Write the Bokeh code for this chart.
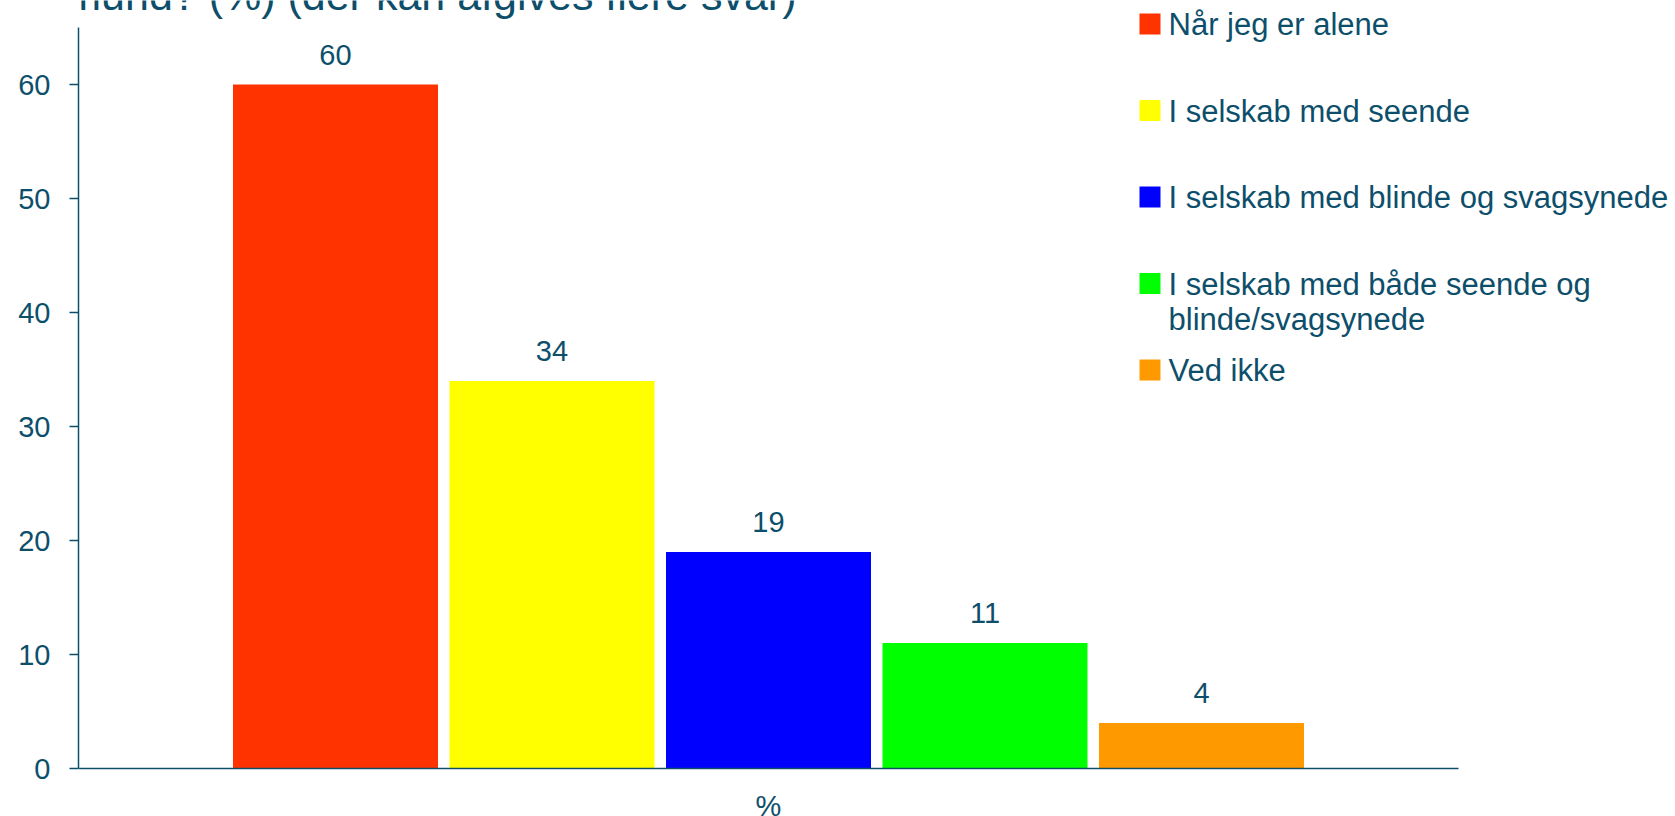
from bokeh.plotting import figure
from bokeh.models import Range1d, FixedTicker, ColumnDataSource
from bokeh.core.properties import value
from bokeh.embed import file_html
from bokeh.resources import INLINE

# ---- data ----
categories = ["Når jeg er alene", "I selskab med seende", "I selskab med blinde og svagsynede",
              "I selskab med både seende og blinde/svagsynede", "Ved ikke"]
legend_labels = ["Når jeg er alene", "I selskab med seende", "I selskab med blinde og svagsynede",
                 "I selskab med både seende og\nblinde/svagsynede", "Ved ikke"]
values = [60, 34, 19, 11, 4]
colors = ["#FF3300", "#FFFF00", "#0000FF", "#00FF00", "#FF9900"]
y_ticks = [0, 10, 20, 30, 40, 50, 60]
x_tick_label = "%"
title_text = "øremund? (%) (der kan afgives flere svar)"

# ---- layout constants (pixels) ----
W, H = 1675, 816
LEFT = 78
FRAME_W = W - LEFT
ZERO_Y = 768          # canvas y of value 0
PX_PER_UNIT = 11.4
Y_MAX = ZERO_Y / PX_PER_UNIT
Y_MIN = -(H - ZERO_Y) / PX_PER_UNIT
AXIS_LEN = 1380
CX = AXIS_LEN / 2
PITCH = 216.5
BAR_W = 205
TXT = "#0D4F6B"
FONT = "Liberation Sans"

def ydata(canvas_y):
    return (ZERO_Y - canvas_y) / PX_PER_UNIT

def xdata(canvas_x):
    return canvas_x - LEFT

p = figure(width=W, height=H, output_backend="svg", toolbar_location=None,
           x_range=Range1d(0, FRAME_W), y_range=Range1d(Y_MIN, Y_MAX),
           min_border_left=LEFT, min_border_right=0, min_border_top=0, min_border_bottom=0,
           tools="")
p.outline_line_color = None
p.grid.visible = False
p.xaxis.visible = False
p.background_fill_color = "white"
p.border_fill_color = "white"

n = len(values)
xs = [CX + (i - (n - 1) / 2) * PITCH for i in range(n)]
src = ColumnDataSource(dict(x=xs, top=values, color=colors, cat=categories,
                            lbl=[str(v) for v in values]))
p.vbar(x="x", top="top", bottom=0, width=BAR_W, fill_color="color", line_color=None, source=src)
p.text(x="x", y="top", text="lbl", source=src, text_align="center", text_baseline="middle",
       y_offset=-30, text_font=value(FONT), text_font_size="29px", text_color=TXT)

# y axis
yax = p.yaxis[0]
yax.ticker = FixedTicker(ticks=y_ticks)
yax.bounds = (0, 65)
yax.axis_line_color = TXT
yax.axis_line_width = 1.5
yax.major_tick_line_color = TXT
yax.major_tick_line_width = 1.5
yax.major_tick_out = 9
yax.major_tick_in = 0
yax.minor_tick_line_color = None
yax.major_label_standoff = 19
yax.major_label_text_font = FONT
yax.major_label_text_font_size = "29px"
yax.major_label_text_color = TXT

# category axis (baseline + "%" label)
p.segment(x0=[0], y0=[0], x1=[AXIS_LEN], y1=[0], line_color=TXT, line_width=1.5)
p.text(x=[CX], y=[0], text=[x_tick_label], text_align="center", text_baseline="middle",
       y_offset=37, text_font=value(FONT), text_font_size="29px", text_color=TXT)

# title (clipped at the top like the reference)
p.text(x=[xdata(796)], y=[ydata(-6)], text=[title_text], text_align="right",
       text_baseline="alphabetic", text_font=value(FONT), text_font_size="43px",
       text_color=TXT)

# legend
row0, row_pitch = 23.5, 86.5
sq = 21
sq_left, txt_left = 1139, 1168
lg = ColumnDataSource(dict(
    x=[xdata(sq_left + sq / 2)] * n,
    y=[ydata(row0 + i * row_pitch) for i in range(n)],
    ty=[ydata(row0 + i * row_pitch - 17) for i in range(n)],
    tx=[xdata(txt_left)] * n,
    color=colors, label=legend_labels))
p.rect(x="x", y="y", width=sq, height=sq / PX_PER_UNIT, fill_color="color", line_color=None, source=lg)
p.text(x="tx", y="ty", text="label", source=lg, text_align="left", text_baseline="top",
       text_font=value(FONT), text_font_size="31px", text_color=TXT, text_line_height=1.0)

open("out.html", "w").write(file_html(p, INLINE))
